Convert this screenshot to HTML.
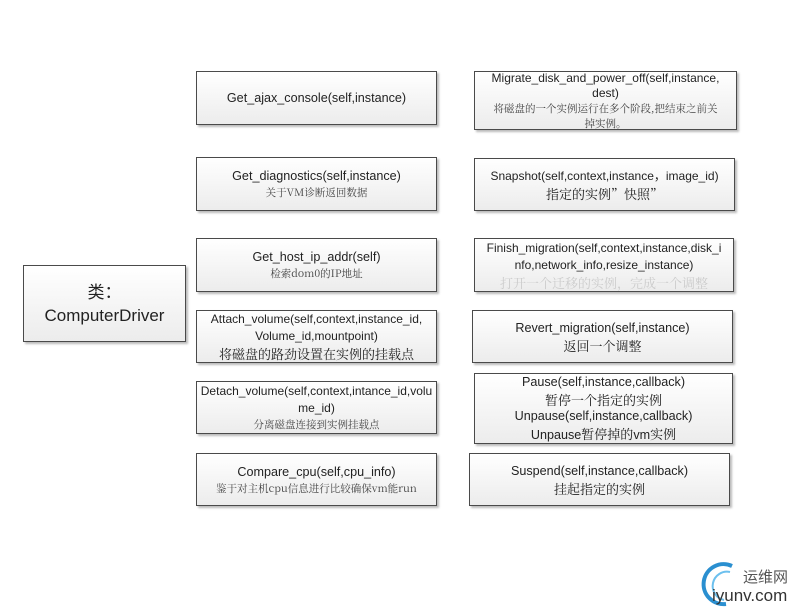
<!DOCTYPE html>
<html><head><meta charset="utf-8"><style>
body{margin:0;width:806px;height:611px;background:#fff;position:relative;overflow:hidden;font-family:"Liberation Sans","Noto Sans CJK SC",sans-serif;color:#222}
.b{position:absolute;box-sizing:border-box;border:1px solid #4a4a4a;background:linear-gradient(#ffffff,#ececec);box-shadow:2px 2px 2px #bbb;display:flex;flex-direction:column;justify-content:center;align-items:center;text-align:center;font-size:12.6px;line-height:17px;white-space:nowrap}
.t{font-size:12px}
.s{font-family:"Noto Serif CJK SC",serif;font-size:10.5px;color:#444;line-height:15px}
.m{font-family:"Noto Serif CJK SC",serif;font-size:13px;line-height:17px}
</style></head><body>
<div class="b" style="left:23px;top:265px;width:163px;height:77px;font-size:17px;line-height:23px">类：<br>ComputerDriver</div>

<div class="b" style="left:196px;top:71px;width:241px;height:54px">Get_ajax_console(self,instance)</div>
<div class="b" style="left:196px;top:157px;width:241px;height:54px">Get_diagnostics(self,instance)<div class="s">关于VM诊断返回数据</div></div>
<div class="b" style="left:196px;top:238px;width:241px;height:54px">Get_host_ip_addr(self)<div class="s">检索dom0的IP地址</div></div>
<div class="b t" style="left:196px;top:310px;width:241px;height:53px">Attach_volume(self,context,instance_id,<br>Volume_id,mountpoint)<div class="m">将磁盘的路劲设置在实例的挂载点</div></div>
<div class="b t" style="left:196px;top:381px;width:241px;height:53px">Detach_volume(self,context,intance_id,volu<br>me_id)<div class="s">分离磁盘连接到实例挂载点</div></div>
<div class="b" style="left:196px;top:453px;width:241px;height:53px">Compare_cpu(self,cpu_info)<div class="s">鉴于对主机cpu信息进行比较确保vm能run</div></div>

<div class="b t" style="left:474px;top:71px;width:263px;height:59px;line-height:15px">Migrate_disk_and_power_off(self,instance,<br>dest)<div class="s">将磁盘的一个实例运行在多个阶段,把结束之前关<br>掉实例。</div></div>
<div class="b t" style="left:474px;top:158px;width:261px;height:53px">Snapshot(self,context,instance，image_id)<div class="m">指定的实例”快照”</div></div>
<div class="b t" style="left:474px;top:238px;width:260px;height:54px">Finish_migration(self,context,instance,disk_i<br>nfo,network_info,resize_instance)<div class="m" style="color:#ccc">打开一个迁移的实例，完成一个调整</div></div>
<div class="b" style="left:472px;top:310px;width:261px;height:53px">Revert_migration(self,instance)<div class="m">返回一个调整</div></div>
<div class="b" style="left:474px;top:373px;width:259px;height:71px">Pause(self,instance,callback)<div class="m">暂停一个指定的实例</div>Unpause(self,instance,callback)<div>Unpause<span class="m">暂停掉的</span>vm<span class="m">实例</span></div></div>
<div class="b" style="left:469px;top:453px;width:261px;height:53px">Suspend(self,instance,callback)<div class="m">挂起指定的实例</div></div>

<svg style="position:absolute;left:700px;top:560px" width="50" height="50"><path d="M32 6 A20 20 0 1 0 26 44" fill="none" stroke="#2a8fd0" stroke-width="4"/><path d="M30 12 A14 14 0 1 0 24 40" fill="none" stroke="#6cc0ee" stroke-width="2"/></svg>
<div style="position:absolute;left:743px;top:566px;font-size:15px;color:#555">运维网</div>
<div style="position:absolute;left:712px;top:586px;font-size:17px;color:#333">iyunv.com</div>
</body></html>
